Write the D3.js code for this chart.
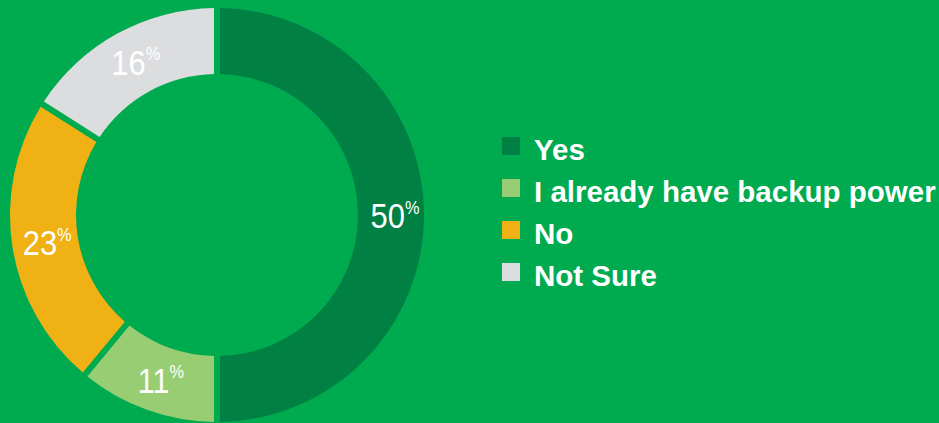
<!DOCTYPE html>
<html><head><meta charset="utf-8">
<script src="https://cdn.jsdelivr.net/npm/d3@7"></script>
<style>html,body{margin:0;padding:0;background:#00AA4F;overflow:hidden}</style>
</head><body>
<svg id="c" width="939" height="423"></svg>
<script>
const categories = ["Yes", "I already have backup power", "No", "Not Sure"];
const values = [50, 11, 23, 16];
const colors = ["#008043", "#98CD74", "#EFB114", "#DCDDDE"];

const svg = d3.select("#c");
svg.append("rect").attr("width",939).attr("height",423).attr("fill","#00AA4F");

const cx = 217, cy = 215, rOuter = 207, rInner = 141;
const data = categories.map((c,i)=>({cat:c, v:values[i], col:colors[i]}));
const pie = d3.pie().value(d=>d.v).sort(null);
const arcs = pie(data);
const arc = d3.arc().innerRadius(rInner).outerRadius(rOuter).padAngle(0.024);
const labelArc = d3.arc().innerRadius(175).outerRadius(175);

const g = svg.append("g").attr("transform",`translate(${cx},${cy})`);
g.selectAll("path").data(arcs).join("path").attr("d",arc).attr("fill",d=>d.data.col);

const lab = g.selectAll("text").data(arcs).join("text")
  .attr("transform",d=>{const [x,y]=labelArc.centroid(d);return `translate(${x+3},${y}) scale(0.86,1)`;})
  .attr("fill","#fff")
  .attr("font-family","'Liberation Sans', Arial, sans-serif")
  .attr("font-size",36)
  .attr("text-anchor","middle")
  .attr("dy","0.36em");
lab.append("tspan").text(d=>d.data.v);
lab.append("tspan").text("%").attr("font-size",19).attr("dy","-0.75em");

const leg = svg.append("g");
const legY = d3.scalePoint().domain(categories).range([160, 286]);
const rows = leg.selectAll("g").data(data).join("g")
  .attr("transform",d=>`translate(502,${legY(d.cat)})`);
rows.append("rect").attr("x",0).attr("y",-23).attr("width",18).attr("height",18).attr("fill",d=>d.col);
rows.append("text").attr("x",32).attr("y",0).text(d=>d.cat)
  .attr("fill","#fff").attr("font-family","'Liberation Sans', Arial, sans-serif")
  .attr("font-weight","bold").attr("font-size",29.5);
</script>
</body></html>
